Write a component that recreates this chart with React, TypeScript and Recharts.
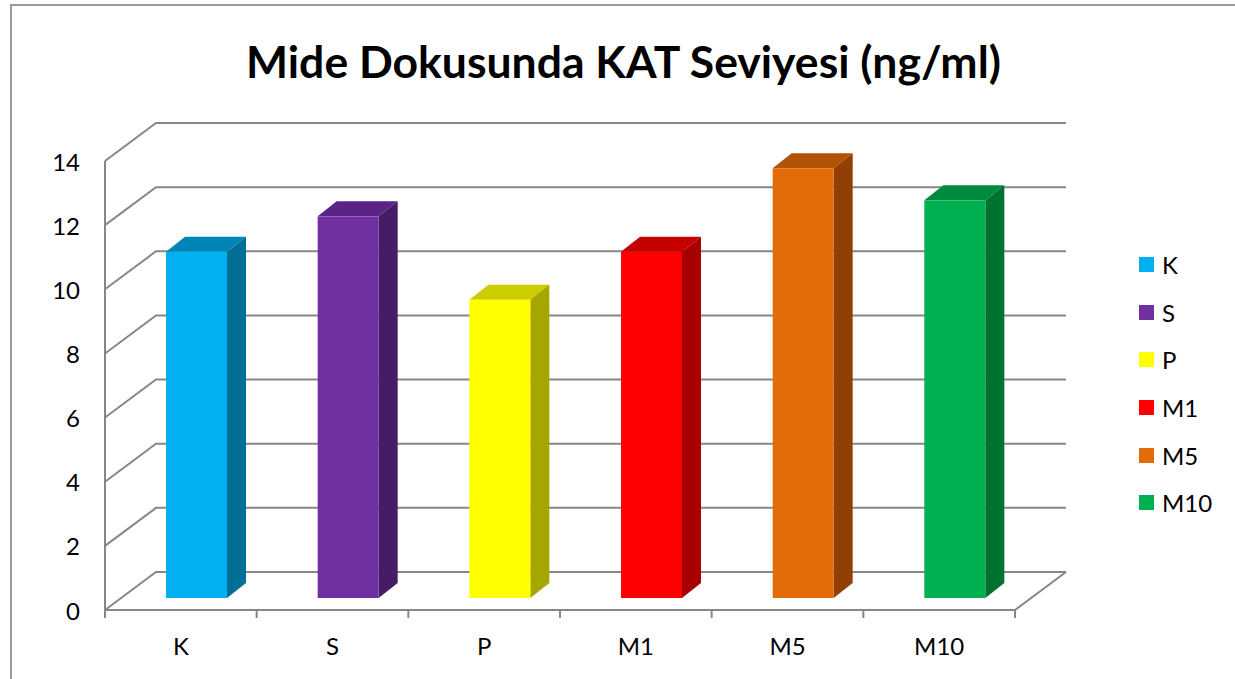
import React from 'react';
import { BarChart, Bar, XAxis, YAxis, CartesianGrid, Legend } from 'recharts';

const categories = ['K', 'S', 'P', 'M1', 'M5', 'M10'];
const values = [10.8, 11.9, 9.3, 10.8, 13.4, 12.4];
const yTicks = [0, 2, 4, 6, 8, 10, 12, 14];
const frontColors = ['#00B0F0', '#7030A0', '#FFFF00', '#FF0000', '#E36C09', '#00B050'];
const sideColors = ['#006F98', '#471C66', '#A6A600', '#A60000', '#923F05', '#00722F'];
const topColors = ['#0085B6', '#5A2484', '#CCCC00', '#C40000', '#B25306', '#008A3E'];

const data = categories.map((c, i) => ({ name: c, value: values[i], idx: i }));

const W = 1235;
const H = 679;
const MARGIN = { top: 149, right: 204, bottom: 51, left: 61 };
const PLOT_LEFT = 121;
const PLOT_RIGHT = W - MARGIN.right;
const PLOT_BOTTOM = H - 81;
const BAND = (PLOT_RIGHT - PLOT_LEFT) / categories.length;
// 3D offsets relative to the plane of the bars' front faces
const FDX = -16, FDY = 12; // front edge of floor / y axis plane
const BDX = 35, BDY = -26; // back wall
const DDX = 19, DDY = -15; // bar depth
const GRID = '#878787';
const FONT = 'Lato, "Open Sans", sans-serif';

const gridLine = (props: any) => {
  const { x, y, width, height, y1, index } = props;
  const bottom = y + height;
  const isBottom = Math.abs(y1 - bottom) < 0.5;
  return (
    <g key={`g-${index}`}>
      <polyline
        points={`${x + FDX},${y1 + FDY} ${x + BDX},${y1 + BDY} ${x + width + BDX},${y1 + BDY}`}
        fill="none"
        stroke={GRID}
        strokeWidth={2}
      />
      {isBottom && (
        <>
          <polyline
            points={`${x + FDX},${bottom + FDY} ${x + width + FDX},${bottom + FDY} ${x + width + BDX},${bottom + BDY}`}
            fill="none"
            stroke={GRID}
            strokeWidth={2}
          />
          <line x1={x + FDX} y1={bottom + FDY} x2={x + FDX} y2={y + FDY} stroke={GRID} strokeWidth={2} />
        </>
      )}
    </g>
  );
};

const Bar3D = (props: any) => {
  const { x, y, width, height, payload } = props;
  const i = payload.idx;
  return (
    <g>
      <polygon
        points={`${x},${y} ${x + DDX},${y + DDY} ${x + width + DDX},${y + DDY} ${x + width},${y}`}
        fill={topColors[i]}
      />
      <polygon
        points={`${x + width},${y} ${x + width + DDX},${y + DDY} ${x + width + DDX},${y + height + DDY} ${x + width},${y + height}`}
        fill={sideColors[i]}
      />
      <rect x={x} y={y} width={width} height={height} fill={frontColors[i]} />
    </g>
  );
};

const XTick = (props: any) => {
  const { x, payload, index } = props;
  const left = x - BAND / 2 + FDX;
  const ty = PLOT_BOTTOM + FDY;
  return (
    <g>
      <line x1={left} y1={ty} x2={left} y2={ty + 8} stroke={GRID} strokeWidth={2} />
      {index === categories.length - 1 && (
        <line x1={left + BAND} y1={ty} x2={left + BAND} y2={ty + 8} stroke={GRID} strokeWidth={2} />
      )}
      <text x={x + FDX} y={ty + 35} textAnchor="middle" dominantBaseline="central" fontFamily={FONT} fontSize={24} fill="#000">
        {payload.value}
      </text>
    </g>
  );
};

const YTick = (props: any) => {
  const { y, payload } = props;
  return (
    <text x={80} y={y + FDY} textAnchor="end" dominantBaseline="central" fontFamily={FONT} fontSize={24} fill="#000">
      {payload.value}
    </text>
  );
};

const LegendContent = () => (
  <div style={{ fontFamily: FONT, fontSize: 24, color: '#000' }}>
    {categories.map((c, i) => (
      <div key={c} style={{ display: 'flex', alignItems: 'center', height: 47.6 }}>
        <span style={{ display: 'inline-block', width: 15, height: 15, background: frontColors[i], marginRight: 8 }} />
        <span>{c}</span>
      </div>
    ))}
  </div>
);

export default function App() {
  return (
    <div style={{ position: 'absolute', left: 0, top: 0, width: W, height: H, background: '#fff', overflow: 'hidden' }}>
      <div
        style={{
          position: 'absolute',
          left: 10,
          top: 4,
          width: W,
          height: H,
          borderTop: '2px solid #9A9A9A',
          borderLeft: '2px solid #9A9A9A',
        }}
      />
      <div
        style={{
          position: 'absolute',
          left: 0,
          top: 33,
          width: 1247,
          textAlign: 'center',
          fontFamily: FONT,
          fontWeight: 'bold',
          fontSize: 44.5,
          color: '#000',
          lineHeight: '56px',
        }}
      >
        Mide Dokusunda KAT Seviyesi (ng/ml)
      </div>
      <div style={{ position: 'absolute', left: 0, top: 0 }}>
        <BarChart width={W} height={H} data={data} margin={MARGIN}>
          <CartesianGrid horizontal={gridLine} vertical={false} />
          <XAxis dataKey="name" height={30} axisLine={false} tickLine={false} tick={<XTick />} interval={0} />
          <YAxis
            width={60}
            domain={[0, 14]}
            ticks={yTicks}
            interval={0}
            axisLine={false}
            tickLine={false}
            tick={<YTick />}
          />
          <Bar dataKey="value" barSize={61} shape={<Bar3D />} isAnimationActive={false} />
          <Legend
            layout="vertical"
            align="center"
            verticalAlign="middle"
            content={<LegendContent />}
            wrapperStyle={{ left: 1139, top: 241, width: 96, height: 290 }}
          />
        </BarChart>
      </div>
    </div>
  );
}
